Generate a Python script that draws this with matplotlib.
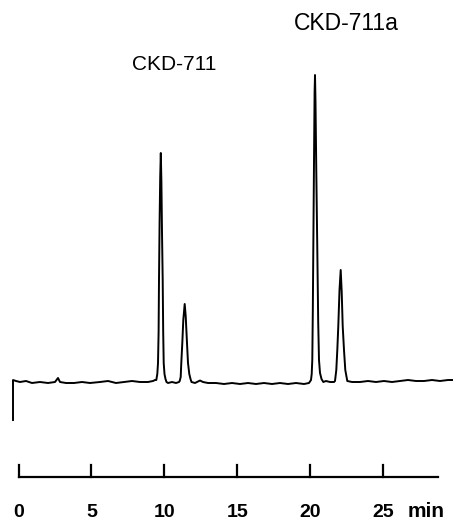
import matplotlib
matplotlib.use("Agg")
import matplotlib.pyplot as plt

plt.rcParams['font.family'] = ['Liberation Sans', 'DejaVu Sans']

# chromatogram trace (time in min, detector signal in arbitrary units)
time_min = [
    -0.380, -0.380, -0.174, 0.100, 0.512, 0.923, 1.472, 2.021, 2.502, 2.707, 2.845,
    3.256, 3.805, 4.354, 4.903, 5.589, 6.138, 6.687, 7.236, 7.785, 8.333, 8.882,
    9.226, 9.363,
    # CKD-711 peak pair
    9.452, 9.521, 9.569, 9.610, 9.637, 9.678, 9.720, 9.761, 9.802, 9.843, 9.891,
    9.925, 9.960, 10.014, 10.083, 10.152,
    10.255, 10.529, 10.804, 11.009,
    11.057, 11.126, 11.167, 11.236, 11.304, 11.400, 11.469, 11.558, 11.627, 11.716,
    11.799, 11.867,
    12.107, 12.450, 12.656, 12.999, 13.548, 14.097, 14.646, 15.195, 15.744, 16.292,
    16.841, 17.390, 17.939, 18.488, 19.037, 19.586, 19.929,
    # CKD-711a peak pair
    20.066, 20.114, 20.155, 20.190, 20.224, 20.272, 20.313, 20.341, 20.375, 20.430,
    20.499, 20.560, 20.615, 20.684, 20.787, 20.911,
    21.095, 21.370, 21.644,
    21.713, 21.802, 21.871, 21.939, 22.022, 22.104, 22.173, 22.241, 22.330, 22.419,
    22.556,
    22.879, 23.428, 23.977, 24.525, 25.074, 25.623, 26.172, 26.721, 27.270, 27.819,
    28.368, 28.917, 29.467, 29.809,
]
signal = [
    -38, 2, 1, 0, 1, -1, 0, -1, 0, 4, 0,
    -1, -1, 0, -1, 0, 1, -1, 0, 1, 0, 0,
    1, 2,
    2, 8, 19, 50, 102, 160, 205, 229, 200, 150, 102,
    50, 19, 8, 3, 0,
    -1, 0, -1, 0,
    1, 5, 19, 39, 62, 78, 66, 39, 19, 8,
    3, 0,
    -1, 1.5, 0, -1, -1, -2, -1, -2, -1, -2,
    -1, -2, -1, -2, -1, -2, -1,
    2, 8, 22, 70, 132, 220, 290, 307, 280, 210,
    132, 60, 22, 9, 3, 0,
    1, 0, 0,
    1, 12, 32, 56, 92, 112, 90, 56, 32, 12,
    1,
    0, 0, 1, 0, 1, 0, 1, 2, 1, 1,
    2, 1, 2, 2,
]

peak_names = ['CKD-711', 'CKD-711a']
peak_label_x = [10.67, 22.47]
peak_label_y = [318, 358]
peak_label_size = [15, 16.5]

scale_ticks = [0, 5, 10, 15, 20, 25]
scale_labels = ['0', '5', '10', '15', '20', '25']
scale_end = 28.78

fig = plt.figure(figsize=(4.53, 5.22), dpi=100)
ax = fig.add_axes([0, 0, 1, 1])
ax.set_xlim(-1.272, 29.809)
ax.set_ylim(-140, 382)
ax.axis('off')

ax.plot(time_min, signal, color='black', lw=1.4, solid_joinstyle='round')

for name, x, y, fs in zip(peak_names, peak_label_x, peak_label_y, peak_label_size):
    ax.text(x, y, name, ha='center', va='center', fontsize=fs)

# time scale bar underneath
ax.plot([scale_ticks[0], scale_end], [-95, -95], color='black', lw=1.6)
for t, lab in zip(scale_ticks, scale_labels):
    ax.plot([t, t], [-95, -83], color='black', lw=1.6)
    ax.text(t, -135, lab, ha='center', va='baseline', fontsize=14, fontweight='bold')
ax.text(27.95, -135, 'min', ha='center', va='baseline', fontsize=15, fontweight='bold')

fig.savefig('out.png', dpi=100)
